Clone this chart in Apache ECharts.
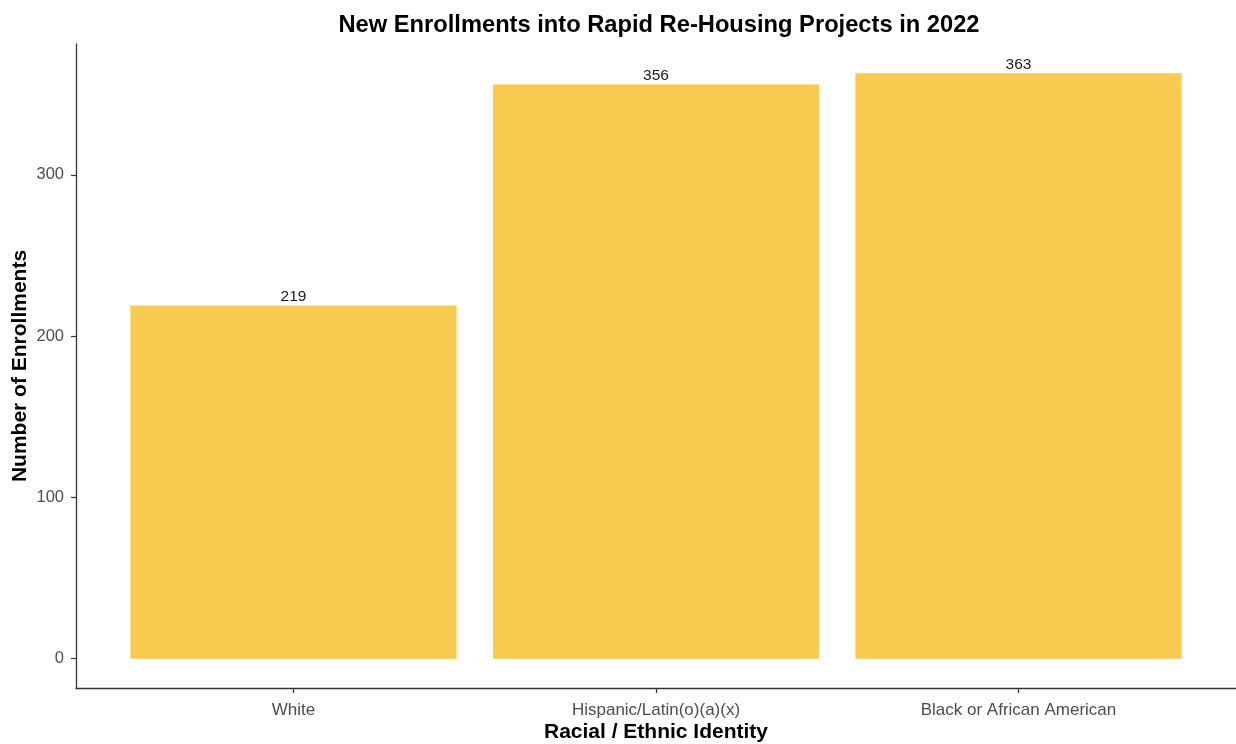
<!DOCTYPE html>
<html>
<head>
<meta charset="utf-8">
<script src="https://cdn.jsdelivr.net/npm/echarts@6/dist/echarts.min.js"></script>
<style>
  html, body { margin: 0; padding: 0; background: #fff; }
  #chart { width: 1236px; height: 744px; }
</style>
</head>
<body>
<div id="chart"></div>
<script>
// Race / ethnicity groups and their new enrollment counts
const categories = ['White', 'Hispanic/Latin(o)(a)(x)', 'Black or African American'];
const enrollments = [219, 356, 363];
const yTicks = [0, 100, 200, 300];

// Categories sit at positions 1..n on a numeric x scale with 0.6 padding on each side
const positions = categories.map((_, i) => i + 1);
const barData = positions.map((p, i) => [p, enrollments[i]]);

// 5% padding above and below the data range
const yMax = Math.max(...enrollments);
const pad = yMax * 0.05;

const FONT = 'Liberation Sans';

const chart = echarts.init(document.getElementById('chart'));
chart.setOption({
  animation: false,
  backgroundColor: '#ffffff',
  title: {
    text: 'New Enrollments into Rapid Re-Housing Projects in 2022',
    left: 654,
    top: 8,
    textAlign: 'center',
    textStyle: { fontFamily: FONT, fontWeight: 'bold', fontSize: 23.7, color: '#000' }
  },
  grid: { left: 76, right: 0, top: 44, bottom: 56, containLabel: false, outerBoundsMode: 'none' },
  xAxis: {
    type: 'value',
    min: 0.4,
    max: categories.length + 0.6,
    name: 'Racial / Ethnic Identity',
    nameLocation: 'middle',
    nameGap: 34,
    nameMoveOverlap: false,
    nameTextStyle: { fontFamily: FONT, fontWeight: 'bold', fontSize: 21, color: '#000' },
    splitLine: { show: false },
    axisLine: { show: true, onZero: false, lineStyle: { color: '#333', width: 1.3 } },
    axisTick: { show: true, length: 5, customValues: positions, lineStyle: { color: '#333', width: 1.2 } },
    axisLabel: {
      customValues: positions,
      formatter: v => categories[Math.round(v) - 1] || '',
      margin: 14,
      fontFamily: FONT,
      fontSize: 17,
      color: '#4d4d4d'
    }
  },
  yAxis: {
    type: 'value',
    min: -pad,
    max: yMax + pad,
    name: 'Number of Enrollments',
    nameLocation: 'middle',
    nameGap: 45,
    nameMoveOverlap: false,
    nameRotate: 90,
    nameTextStyle: { fontFamily: FONT, fontWeight: 'bold', fontSize: 21, color: '#000' },
    splitLine: { show: false },
    axisLine: { show: true, onZero: false, lineStyle: { color: '#333', width: 1.3 } },
    axisTick: { show: true, length: 5, customValues: yTicks, lineStyle: { color: '#333', width: 1.2 } },
    axisLabel: {
      customValues: yTicks,
      margin: 12,
      fontFamily: FONT,
      fontSize: 16.5,
      color: '#4d4d4d'
    }
  },
  series: [{
    type: 'bar',
    data: barData,
    barWidth: '90%',
    itemStyle: { color: '#f8ca4f' },
    label: {
      show: true,
      position: 'top',
      distance: 1,
      formatter: p => p.value[1],
      fontFamily: FONT,
      fontSize: 15.5,
      color: '#1a1a1a'
    }
  }]
});
</script>
</body>
</html>
